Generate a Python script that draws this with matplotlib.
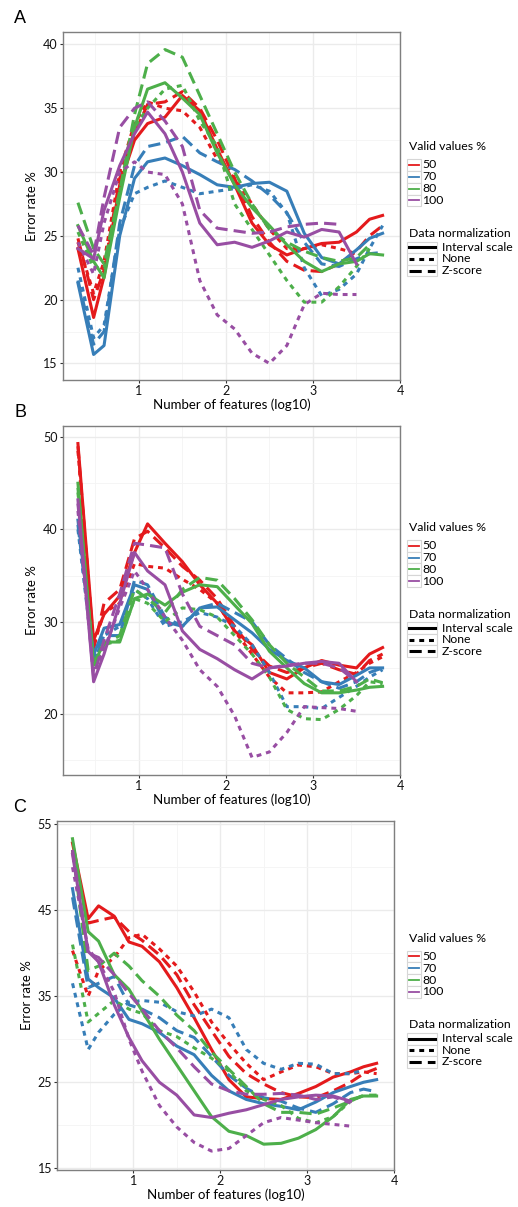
import numpy as np
import matplotlib.pyplot as plt
from matplotlib.lines import Line2D
from matplotlib.patches import Rectangle

plt.rcParams['font.family'] = ['Lato', 'DejaVu Sans']

W, H = 518, 1207

# x positions (log10 of number of features)
x_log = [0.30, 0.48, 0.60, 0.78, 0.95, 1.10, 1.30, 1.50, 1.70, 1.90,
         2.10, 2.30, 2.50, 2.70, 2.90, 3.10, 3.30, 3.50, 3.65, 3.80]

valid_pct = ['50', '70', '80', '100']
norm_names = ['Interval scale', 'None', 'Z-score']
colors = ['#E41A1C', '#377EB8', '#4DAF4A', '#984EA3']
dash = {'Interval scale': '-', 'None': (0, (1.6, 1.6)), 'Z-score': (0, (4, 2))}
N = None

# ---- panel A ----
a_50_int = [24.0, 18.6, 21.8, 29.0, 32.5, 33.8, 34.3, 36.0, 34.8, 31.8, 29.0, 26.0, 24.3, 23.5, 24.0, 24.4, 24.5, 25.3, 26.3, 26.6]
a_50_none = [24.5, 20.5, 23.0, 30.0, 33.8, 35.5, 35.0, 34.8, 33.5, 31.0, 29.5, 27.5, 25.5, 24.0, 24.0, 24.3, 24.0, 23.6, N, N]
a_50_z = [24.8, 20.0, 22.3, 29.5, 33.0, 35.3, 35.5, 36.3, 35.0, 32.5, 29.5, 26.5, 24.5, 23.0, 22.3, 22.2, 22.8, 23.8, 25.0, 25.8]
a_70_int = [21.3, 15.7, 16.4, 25.0, 29.5, 30.8, 31.1, 30.5, 29.8, 29.0, 28.8, 29.1, 29.2, 28.5, 25.2, 23.3, 22.8, 23.9, 24.8, 25.2]
a_70_none = [22.5, 17.0, 18.0, 25.5, 28.3, 28.8, 29.3, 28.8, 28.3, 28.5, 28.7, 29.0, 28.5, 26.8, 22.5, 20.3, 20.8, 22.0, 24.0, 25.8]
a_70_z = [21.5, 16.5, 17.5, 26.0, 30.5, 32.0, 32.3, 32.8, 31.5, 30.8, 30.2, 29.3, 28.2, 26.8, 24.5, 22.8, 22.6, 23.2, 23.6, 23.7]
a_80_int = [25.8, 23.0, 21.7, 28.0, 33.5, 36.5, 37.0, 35.8, 34.5, 31.5, 29.0, 27.2, 25.8, 24.3, 23.0, 22.2, 22.8, 23.0, 23.6, 23.5]
a_80_none = [25.3, 22.5, 22.5, 28.5, 33.5, 35.0, 36.5, 36.8, 34.0, 32.0, 27.5, 25.5, 23.5, 21.5, 19.8, 19.8, 21.0, 22.6, 24.0, N]
a_80_z = [27.6, 24.0, 22.8, 28.5, 34.5, 38.5, 39.6, 39.0, 36.0, 33.0, 30.0, 27.5, 25.5, 24.5, 23.8, 23.3, 23.0, 23.3, 24.3, N]
a_100_int = [24.0, 23.2, 27.0, 30.5, 33.0, 34.7, 33.0, 30.0, 26.0, 24.3, 24.5, 24.1, 24.6, 25.3, 24.9, 25.5, 25.3, 22.8, N, N]
a_100_none = [24.5, 22.0, 26.0, 30.0, 30.8, 30.0, 29.8, 27.5, 21.5, 18.8, 17.7, 15.8, 15.0, 16.4, 19.6, 20.5, 20.4, 20.4, N, N]
a_100_z = [25.8, 23.5, 28.0, 33.5, 35.0, 35.5, 34.0, 32.0, 27.0, 25.6, 25.4, 25.2, 25.3, 25.7, 25.9, 26.0, 25.9, N, N, N]

# ---- panel B ----
b_50_int = [49.3, 28.0, 30.8, 32.8, 37.5, 40.6, 38.5, 36.5, 34.0, 32.0, 29.0, 27.5, 24.5, 23.8, 25.0, 25.8, 25.3, 25.0, 26.5, 27.2]
b_50_none = [48.5, 27.5, 31.0, 32.0, 36.3, 36.0, 35.8, 34.6, 33.5, 32.0, 29.0, 26.5, 24.0, 22.3, 22.3, 22.4, 23.5, 24.5, 25.5, 26.2]
b_50_z = [49.0, 27.0, 32.0, 33.5, 39.0, 39.8, 38.0, 36.0, 34.5, 32.5, 29.5, 27.0, 25.2, 24.5, 25.0, 25.5, 24.8, 24.3, 25.8, 26.5]
b_70_int = [41.0, 26.4, 29.3, 29.7, 34.0, 33.5, 30.0, 29.5, 31.5, 31.6, 30.2, 28.8, 27.0, 25.8, 25.0, 23.5, 23.2, 24.2, 25.0, 25.0]
b_70_none = [40.0, 25.5, 28.5, 29.5, 33.5, 32.5, 29.5, 30.0, 31.0, 30.5, 29.5, 27.5, 24.5, 20.8, 20.8, 20.6, 21.8, 23.0, 24.0, 24.8]
b_70_z = [40.5, 26.0, 28.5, 28.5, 34.5, 34.0, 30.5, 29.5, 31.5, 32.0, 31.0, 30.0, 27.5, 26.0, 24.5, 23.5, 22.8, 23.5, 24.5, 25.0]
b_80_int = [45.0, 25.3, 27.8, 27.8, 32.5, 33.0, 31.8, 33.2, 34.0, 33.8, 31.8, 29.8, 26.8, 25.0, 23.3, 22.3, 22.3, 22.6, 22.9, 23.0]
b_80_none = [44.0, 25.5, 27.5, 28.0, 32.5, 32.0, 30.0, 31.5, 31.3, 30.5, 28.5, 26.5, 24.0, 20.5, 19.5, 19.4, 20.5, 22.0, 23.5, 23.3]
b_80_z = [44.5, 25.0, 27.5, 28.5, 33.5, 32.5, 31.0, 33.5, 34.8, 34.5, 32.5, 30.2, 27.5, 25.5, 24.0, 22.5, 22.5, 23.0, 23.8, 23.4]
b_100_int = [43.2, 23.5, 26.5, 32.0, 37.5, 35.5, 34.0, 29.0, 27.0, 26.0, 24.8, 23.8, 25.0, 25.2, 25.5, 25.7, 25.5, 23.5, N, N]
b_100_none = [42.0, 24.5, 27.0, 31.5, 35.5, 33.5, 30.5, 28.0, 24.8, 23.0, 19.8, 15.3, 15.9, 18.0, 20.8, 20.7, 20.6, 20.3, N, N]
b_100_z = [42.8, 24.0, 28.0, 33.0, 38.5, 38.3, 38.0, 33.0, 29.5, 28.5, 27.5, 25.5, 25.0, 25.3, 25.5, 25.5, 25.0, 23.5, N, N]

# ---- panel C ----
c_50_int = [52.8, 44.0, 45.5, 44.3, 41.3, 40.8, 39.0, 36.0, 32.5, 28.8, 25.3, 23.3, 23.1, 23.0, 23.7, 24.5, 25.6, 26.2, 26.8, 27.2]
c_50_none = [40.3, 35.0, 38.0, 39.5, 41.8, 42.2, 40.5, 38.5, 35.5, 32.0, 29.5, 27.2, 25.3, 26.2, 27.0, 26.8, 26.0, 26.0, 26.2, 26.0]
c_50_z = [52.0, 43.5, 43.8, 44.2, 42.5, 41.5, 39.8, 37.5, 34.0, 31.0, 28.0, 26.0, 24.8, 23.8, 23.3, 23.2, 24.0, 25.0, 26.0, 26.6]
c_70_int = [47.5, 37.0, 36.0, 34.8, 32.3, 31.8, 30.8, 29.2, 28.2, 25.8, 24.0, 23.0, 22.5, 22.2, 21.8, 22.7, 23.8, 24.5, 25.0, 25.3]
c_70_none = [36.5, 28.8, 30.8, 32.9, 34.3, 34.5, 34.3, 33.2, 32.7, 33.5, 32.5, 28.8, 27.2, 26.5, 27.2, 27.1, 26.0, 26.0, 26.4, N]
c_70_z = [46.5, 36.0, 36.5, 37.3, 34.0, 33.5, 32.5, 31.0, 30.2, 28.0, 25.8, 24.3, 23.2, 22.8, 22.0, 21.5, 22.5, 23.8, 24.2, 23.9]
c_80_int = [53.3, 42.5, 41.4, 37.5, 35.8, 33.3, 30.0, 27.0, 24.0, 21.0, 19.3, 18.8, 17.8, 17.9, 18.5, 19.5, 21.0, 23.0, 23.4, 23.4]
c_80_none = [41.0, 32.0, 33.0, 34.5, 33.5, 33.0, 31.0, 30.3, 29.0, 27.8, 26.3, 24.0, 23.0, 22.3, 20.8, 20.3, 21.0, 22.8, 23.5, N]
c_80_z = [52.0, 38.0, 38.5, 40.0, 38.5, 36.8, 35.0, 32.8, 31.0, 28.5, 26.5, 24.5, 22.5, 21.5, 21.5, 21.3, 22.0, 22.8, 23.5, 23.5]
c_100_int = [51.5, 40.2, 39.0, 34.0, 30.2, 27.5, 25.0, 23.5, 21.2, 20.9, 21.4, 21.8, 22.4, 23.0, 23.3, 23.5, 23.4, 22.8, N, N]
c_100_none = [50.0, 40.5, 39.0, 35.5, 30.0, 26.3, 22.3, 19.8, 18.0, 17.0, 17.3, 18.8, 20.3, 20.9, 20.6, 20.3, 20.1, 19.9, N, N]
c_100_z = [52.0, 40.0, 39.5, 37.5, 35.3, 33.5, 31.0, 29.0, 26.8, 24.8, 24.0, 23.6, 23.6, 23.7, 23.5, 23.0, 23.3, 22.6, N, N]

panel_a = [[a_50_int, a_50_none, a_50_z], [a_70_int, a_70_none, a_70_z],
           [a_80_int, a_80_none, a_80_z], [a_100_int, a_100_none, a_100_z]]
panel_b = [[b_50_int, b_50_none, b_50_z], [b_70_int, b_70_none, b_70_z],
           [b_80_int, b_80_none, b_80_z], [b_100_int, b_100_none, b_100_z]]
panel_c = [[c_50_int, c_50_none, c_50_z], [c_70_int, c_70_none, c_70_z],
           [c_80_int, c_80_none, c_80_z], [c_100_int, c_100_none, c_100_z]]


def px(x, y):
    return x / W, 1 - y / H


fig = plt.figure(figsize=(W / 100, H / 100), dpi=100)

# name, data, (left, top, right, bottom) in px, ylim, majors, minors, legend dy
panels = [
    ('A', panel_a, (62.7, 31.7, 400, 380), (13.7, 41.0),
     [15, 20, 25, 30, 35, 40], [17.5, 22.5, 27.5, 32.5, 37.5], 0),
    ('B', panel_b, (62.7, 426, 400, 775), (13.4, 51.2),
     [20, 30, 40, 50], [15, 25, 35, 45], 380.7),
    ('C', panel_c, (57.3, 820.7, 394, 1170), (14.8, 55.4),
     [15, 25, 35, 45, 55], [20, 30, 40, 50], 791.4),
]

LEG_FS = 8.8

for name, data, (l, t, r, b), ylim, ymaj, ymin, ldy in panels:
    ax = fig.add_axes([l / W, 1 - b / H, (r - l) / W, (b - t) / H])
    ax.set_xlim(0.125, 4.0)
    ax.set_ylim(*ylim)
    ax.set_xticks([1, 2, 3, 4])
    ax.set_xticks([0.5, 1.5, 2.5, 3.5], minor=True)
    ax.set_yticks(ymaj)
    ax.set_yticks(ymin, minor=True)
    ax.grid(which='major', color='#EBEBEB', lw=1.0)
    ax.grid(which='minor', color='#F4F4F4', lw=0.6)
    ax.set_axisbelow(True)
    ax.tick_params(which='major', length=2.2, width=0.8, color='#333333',
                   labelsize=9, labelcolor='#111111', pad=1.5)
    ax.tick_params(which='minor', length=0)
    for s in ax.spines.values():
        s.set_color('#7F7F7F')
        s.set_linewidth(1.0)

    for ci, col in enumerate(colors):
        for ni, nm in enumerate(norm_names):
            y = np.array([np.nan if v is None else v for v in data[ci][ni]], dtype=float)
            ax.plot(x_log, y, color=col, lw=2.2, linestyle=dash[nm],
                    dash_capstyle='butt', solid_joinstyle='round', zorder=3)

    cx = (l + r) / 2
    cy = (t + b) / 2
    fig.text(*px(cx, b + 25), 'Number of features (log10)', ha='center',
             va='center', fontsize=9.5)
    fig.text(*px(l - 30.5, cy), 'Error rate %', ha='center', va='center',
             rotation=90, fontsize=9.5)
    fig.text(*px(20, t - 13.5), name, ha='center', va='center', fontsize=13,
             family=['Liberation Sans', 'DejaVu Sans'])

    # legends
    fig.text(*px(409, 146.7 + ldy), 'Valid values %', ha='left', va='center',
             fontsize=LEG_FS)
    for i, (lab, col) in enumerate(zip(valid_pct, colors)):
        ky = 165.0 + 11.8 * i + ldy
        x0, y0 = px(406.7, ky + 5.9)
        fig.add_artist(Rectangle((x0, y0), 14.3 / W, 11.8 / H, transform=fig.transFigure,
                                 facecolor='white', edgecolor='#D6D6D6', lw=0.8))
        fig.add_artist(Line2D([408.5 / W, 419.3 / W], [1 - ky / H] * 2,
                              transform=fig.transFigure, color=col, lw=1.3))
        fig.text(*px(422, ky), lab, ha='left', va='center', fontsize=LEG_FS)
    fig.text(*px(409, 233.3 + ldy), 'Data normalization', ha='left',
             va='center', fontsize=LEG_FS)
    for j, nm in enumerate(norm_names):
        ky = 247.3 + 11.6 * j + ldy
        x0, y0 = px(406.7, ky + 5.8)
        fig.add_artist(Rectangle((x0, y0), 30.3 / W, 11.6 / H, transform=fig.transFigure,
                                 facecolor='white', edgecolor='#D6D6D6', lw=0.8))
        fig.add_artist(Line2D([408.7 / W, 435.3 / W], [1 - ky / H] * 2,
                              transform=fig.transFigure, color='black', lw=2.2,
                              linestyle=dash[nm], dash_capstyle='butt'))
        fig.text(*px(442, ky), nm, ha='left', va='center', fontsize=LEG_FS)

fig.savefig('out.png', dpi=100)
